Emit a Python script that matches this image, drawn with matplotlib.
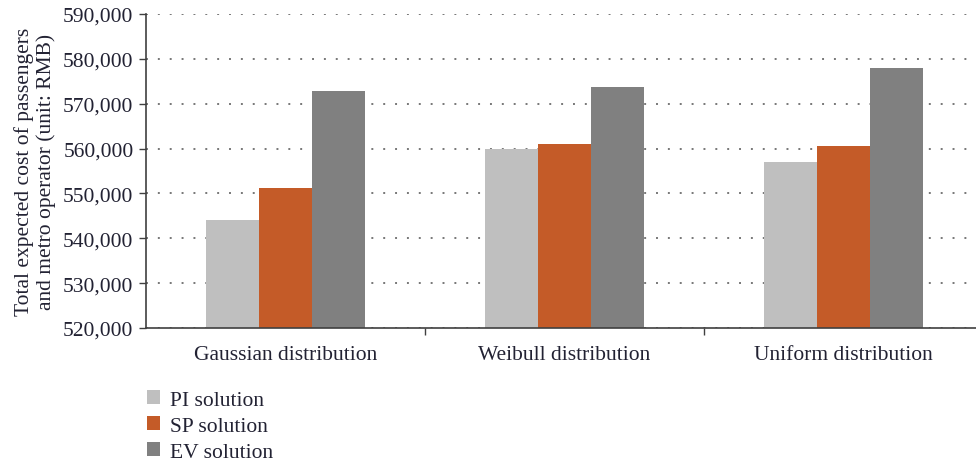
import matplotlib
matplotlib.use("Agg")
import matplotlib.pyplot as plt
import numpy as np
from matplotlib.ticker import FuncFormatter, FixedLocator
from matplotlib.patches import Patch

categories = ["Gaussian distribution", "Weibull distribution", "Uniform distribution"]
series_names = ["PI solution", "SP solution", "EV solution"]
pi_values = [544100, 559900, 556900]
sp_values = [551200, 561000, 560600]
ev_values = [572900, 573700, 578000]
colors = ["#BFBFBF", "#C45B28", "#808080"]
ylabel = "Total expected cost of passengers\nand metro operator (unit: RMB)"

plt.rcParams['font.family'] = ['Liberation Serif', 'DejaVu Serif']

W, H = 976, 464
fig = plt.figure(figsize=(W / 100, H / 100), dpi=100)
left_px, right_px, top_px, bottom_px = 146, 976, 15, 329
ax = fig.add_axes([left_px / W, 1 - bottom_px / H, (right_px - left_px) / W, (bottom_px - top_px) / H])

x = np.arange(len(categories))
bw = 0.191
for i, (vals, c, name) in enumerate(zip([pi_values, sp_values, ev_values], colors, series_names)):
    ax.bar(x + (i - 1) * bw, vals, width=bw, color=c, label=name, zorder=2)

ax.set_ylim(520000, 590000)
ax.set_xlim(-0.5, -0.5 + (right_px - left_px) / 279.0)
ax.yaxis.set_major_locator(FixedLocator(np.arange(520000, 590001, 10000)))
ax.yaxis.set_major_formatter(FuncFormatter(lambda v, p: f"{int(v):,}"))
ax.grid(axis='y', linestyle=(0, (1, 5.1)), color='#777777', linewidth=1.4, zorder=0)
ax.set_axisbelow(True)

tc = '#222233'
ax.set_xticks(x)
ax.set_xticklabels(categories, fontsize=15.5, color=tc)
ax.set_xticks([0.5, 1.5], minor=True)
ax.tick_params(axis='x', which='major', length=0, pad=12)
ax.tick_params(axis='x', which='minor', length=5, color='#404040', width=1)
ax.tick_params(axis='y', length=5, color='#404040', width=1, labelsize=15.5, labelcolor=tc, pad=4)

for s in ['top', 'right']:
    ax.spines[s].set_visible(False)
for s in ['left', 'bottom']:
    ax.spines[s].set_color('#404040')
    ax.spines[s].set_linewidth(1.2)

ax.set_ylabel(ylabel, fontsize=15.5, color=tc, linespacing=1.15, labelpad=5)

handles = [Patch(facecolor=c, edgecolor='none') for c in colors]
fig.legend(handles, series_names, loc='upper left', bbox_to_anchor=(128 / W, 1 - 372 / H),
           frameon=False, fontsize=15.5, handlelength=0.6, handleheight=0.6,
           handletextpad=0.45, labelspacing=0.3, labelcolor=tc)

fig.savefig("out.png", dpi=100)
